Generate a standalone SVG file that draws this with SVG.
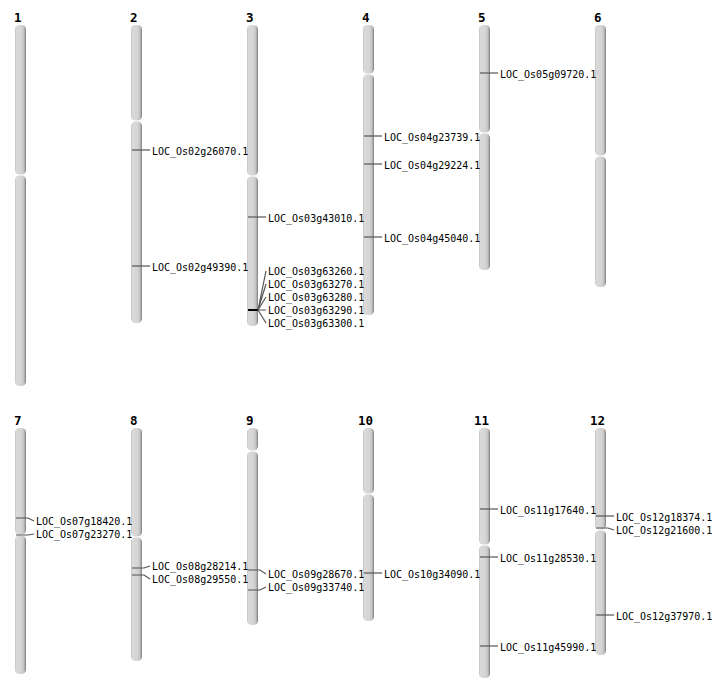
<svg xmlns="http://www.w3.org/2000/svg" width="712" height="700" viewBox="0 0 712 700">
<defs>
<linearGradient id="g" x1="0" y1="0" x2="1" y2="0">
<stop offset="0" stop-color="#c4c4c4"/>
<stop offset="0.15" stop-color="#dadada"/>
<stop offset="0.6" stop-color="#d4d4d4"/>
<stop offset="0.82" stop-color="#c2c2c2"/>
<stop offset="1" stop-color="#7a7a7a"/>
</linearGradient>
</defs>
<style>
.arm{fill:url(#g);}
.t{font-family:"DejaVu Sans Mono","Liberation Mono",monospace;font-size:12.5px;font-weight:bold;fill:#000;}
.l{font-family:"DejaVu Sans Mono","Liberation Mono",monospace;font-size:10px;fill:#000;}
.m{stroke:#555;stroke-width:1.2;fill:none;}
.k{stroke:#000;stroke-width:2;fill:none;}
</style>
<rect width="712" height="700" fill="#fff"/>
<g id="chr1"><text class="t" x="14" y="22">1</text><rect class="arm" x="15" y="25" width="11" height="149.5" rx="4.5"/><rect class="arm" x="15" y="175.5" width="11" height="210.5" rx="4.5"/></g>
<g id="chr2"><text class="t" x="130" y="22">2</text><rect class="arm" x="131" y="25" width="11" height="95.5" rx="4.5"/><rect class="arm" x="131" y="121.5" width="11" height="201.5" rx="4.5"/></g>
<g id="chr3"><text class="t" x="246" y="22">3</text><rect class="arm" x="247" y="25" width="11" height="150.5" rx="4.5"/><rect class="arm" x="247" y="176.5" width="11" height="149.5" rx="4.5"/></g>
<g id="chr4"><text class="t" x="362" y="22">4</text><rect class="arm" x="363" y="25" width="11" height="48.5" rx="4.5"/><rect class="arm" x="363" y="74.5" width="11" height="240.5" rx="4.5"/></g>
<g id="chr5"><text class="t" x="478" y="22">5</text><rect class="arm" x="479" y="25" width="11" height="107.5" rx="4.5"/><rect class="arm" x="479" y="133.5" width="11" height="136.5" rx="4.5"/></g>
<g id="chr6"><text class="t" x="594" y="22">6</text><rect class="arm" x="595" y="25" width="11" height="130.5" rx="4.5"/><rect class="arm" x="595" y="156.5" width="11" height="130.5" rx="4.5"/></g>
<g id="chr7"><text class="t" x="14" y="425">7</text><rect class="arm" x="15" y="428" width="11" height="106.5" rx="4.5"/><rect class="arm" x="15" y="535.5" width="11" height="138.5" rx="4.5"/></g>
<g id="chr8"><text class="t" x="130" y="425">8</text><rect class="arm" x="131" y="428" width="11" height="108.5" rx="4.5"/><rect class="arm" x="131" y="537.5" width="11" height="123.5" rx="4.5"/></g>
<g id="chr9"><text class="t" x="246" y="425">9</text><rect class="arm" x="247" y="428" width="11" height="22.5" rx="4.5"/><rect class="arm" x="247" y="451.5" width="11" height="173.5" rx="4.5"/></g>
<g id="chr10"><text class="t" x="358" y="425">10</text><rect class="arm" x="363" y="428" width="11" height="65.5" rx="4.5"/><rect class="arm" x="363" y="494.5" width="11" height="126.5" rx="4.5"/></g>
<g id="chr11"><text class="t" x="474" y="425">11</text><rect class="arm" x="479" y="428" width="11" height="116.5" rx="4.5"/><rect class="arm" x="479" y="545.5" width="11" height="132.5" rx="4.5"/></g>
<g id="chr12"><text class="t" x="590" y="425">12</text><rect class="arm" x="595" y="428" width="11" height="101.5" rx="4.5"/><rect class="arm" x="595" y="530.5" width="11" height="124.5" rx="4.5"/></g>
<g id="connectors">
<path class="m" d="M132 150H150"/>
<path class="m" d="M132 266H150"/>
<path class="m" d="M248 217H266"/>
<path class="k" d="M248 310H258"/>
<path class="m" d="M258 310L266 271M258 310L266 284M258 310L266 297M258 310H266M258 310L266 323"/>
<path class="m" d="M364 136H382"/>
<path class="m" d="M364 164H382"/>
<path class="m" d="M364 237H382"/>
<path class="m" d="M480 73H498"/>
<path class="m" d="M16 518H28L34 521"/>
<path class="m" d="M16 535H28L34 534"/>
<path class="m" d="M132 568H144L150 566"/>
<path class="m" d="M132 575H144L150 579"/>
<path class="m" d="M248 570H260L266 574"/>
<path class="m" d="M248 590H260L266 587"/>
<path class="m" d="M364 573H382"/>
<path class="m" d="M480 509H498"/>
<path class="m" d="M480 557H498"/>
<path class="m" d="M480 646H498"/>
<path class="m" d="M596 516H614"/>
<path class="m" d="M596 528H608L614 530"/>
<path class="m" d="M596 615H614"/>
</g>
<g id="labels">
<text class="l" x="152" y="155">LOC_Os02g26070.1</text>
<text class="l" x="152" y="271">LOC_Os02g49390.1</text>
<text class="l" x="268" y="222">LOC_Os03g43010.1</text>
<text class="l" x="268" y="275">LOC_Os03g63260.1</text>
<text class="l" x="268" y="288">LOC_Os03g63270.1</text>
<text class="l" x="268" y="301">LOC_Os03g63280.1</text>
<text class="l" x="268" y="314">LOC_Os03g63290.1</text>
<text class="l" x="268" y="327">LOC_Os03g63300.1</text>
<text class="l" x="384" y="141">LOC_Os04g23739.1</text>
<text class="l" x="384" y="169">LOC_Os04g29224.1</text>
<text class="l" x="384" y="242">LOC_Os04g45040.1</text>
<text class="l" x="500" y="78">LOC_Os05g09720.1</text>
<text class="l" x="36" y="525">LOC_Os07g18420.1</text>
<text class="l" x="36" y="538">LOC_Os07g23270.1</text>
<text class="l" x="152" y="570">LOC_Os08g28214.1</text>
<text class="l" x="152" y="583">LOC_Os08g29550.1</text>
<text class="l" x="268" y="578">LOC_Os09g28670.1</text>
<text class="l" x="268" y="591">LOC_Os09g33740.1</text>
<text class="l" x="384" y="578">LOC_Os10g34090.1</text>
<text class="l" x="500" y="514">LOC_Os11g17640.1</text>
<text class="l" x="500" y="562">LOC_Os11g28530.1</text>
<text class="l" x="500" y="651">LOC_Os11g45990.1</text>
<text class="l" x="616" y="521">LOC_Os12g18374.1</text>
<text class="l" x="616" y="534">LOC_Os12g21600.1</text>
<text class="l" x="616" y="620">LOC_Os12g37970.1</text>
</g>
</svg>
